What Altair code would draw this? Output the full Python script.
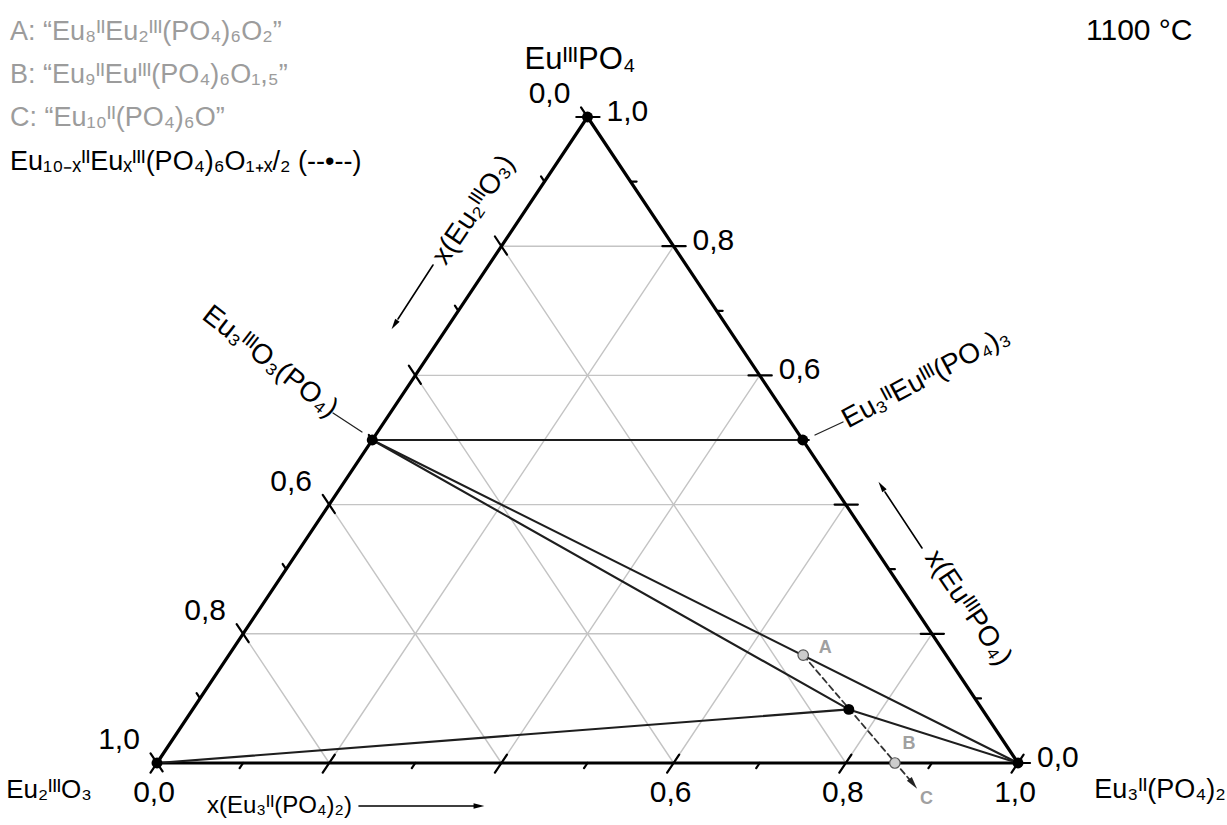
import altair as alt
import pandas as pd

# ---------------- data: ternary compositions ----------------
# a = x(Eu3(PO4)2), p = x(EuPO4), x(Eu2O3) = 1 - a - p
vertex_names = ["Eu2O3", "Eu3(PO4)2", "EuPO4"]
vertex_a = [0.0, 1.0, 0.0]
vertex_p = [0.0, 0.0, 1.0]

phase_names = ["Eu3O3(PO4)", "Eu3Eu(PO4)3", "EuII8.5EuIII1.5(PO4)6O1.75"]
phase_a = [0.0, 0.5, 0.762]
phase_p = [0.5, 0.5, 0.083]

tie_from = ["Eu3O3(PO4)", "Eu3O3(PO4)", "Eu3O3(PO4)", "EuII8.5EuIII1.5(PO4)6O1.75", "Eu2O3"]
tie_to = ["Eu3Eu(PO4)3", "Eu3(PO4)2", "EuII8.5EuIII1.5(PO4)6O1.75", "Eu3(PO4)2", "EuII8.5EuIII1.5(PO4)6O1.75"]

hyp_names = ["A", "B"]
hyp_a = [0.667, 0.857]
hyp_p = [0.167, 0.0]

series_end_a = 0.893   # dashed series continues toward C
series_end_p = -0.031

grid_values = [0.2, 0.4, 0.6, 0.8]
tick_values = [0.0, 0.1, 0.2, 0.3, 0.4, 0.5, 0.6, 0.7, 0.8, 0.9, 1.0]
label_values = [0.0, 0.6, 0.8, 1.0]
label_texts = ["0,0", "0,6", "0,8", "1,0"]

# ---------------- layout ----------------
W, H = 1227, 825
X0, XW = 157.0, 861.0
Y0, YH = 763.0, 646.0
FONT = "'Liberation Sans', sans-serif"
NUMFONT = "'Liberation Sans', sans-serif"


def cart(a, p):
    return a + p / 2.0, p


def inv(px, py):
    return (px - X0) / XW, (Y0 - py) / YH


xs = alt.Scale(domain=[-X0 / XW, (W - X0) / XW], nice=False, zero=False)
ys = alt.Scale(domain=[(Y0 - H) / YH, Y0 / YH], nice=False, zero=False)
X = lambda f="x": alt.X(f"{f}:Q", scale=xs, axis=None)
Y = lambda f="y": alt.Y(f"{f}:Q", scale=ys, axis=None)

pos = {}
for n, a, p in zip(vertex_names, vertex_a, vertex_p):
    pos[n] = cart(a, p)
for n, a, p in zip(phase_names, phase_a, phase_p):
    pos[n] = cart(a, p)


def seg_df(rows):
    return pd.DataFrame(rows, columns=["x", "y", "x2", "y2"])


def rules(df, color, width, dash=None):
    kw = dict(color=color, strokeWidth=width, strokeCap="round")
    if dash:
        kw["strokeDash"] = dash
    return alt.Chart(df).mark_rule(**kw).encode(x=X(), y=Y(), x2="x2:Q", y2="y2:Q")


# grid
grid_rows = []
for v in grid_values:
    grid_rows.append((*cart(0, v), *cart(1 - v, v)))
    grid_rows.append((*cart(v, 0), *cart(v, 1 - v)))
    grid_rows.append((*cart(1 - v, 0), *cart(0, 1 - v)))
grid = rules(seg_df(grid_rows), "#c4c4c4", 1.4)

# edges
L, R, T = pos["Eu2O3"], pos["Eu3(PO4)2"], pos["EuPO4"]
edges = rules(seg_df([(*L, *R), (*R, *T), (*T, *L)]), "#000000", 3.2)

# ticks
tick_rows = []
for v in tick_values:
    major = round(v * 10) % 2 == 0
    o, i = (0.015, 0.013) if major else (0.008, 0.0)
    tick_rows.append((*cart(v, -o), *cart(v, i)))
    o, i = (0.014, 0.013) if major else (0.007, 0.0)
    tick_rows.append((*cart(1 - v + o, v), *cart(1 - v - i, v)))
    o, i = (0.015, 0.013) if major else (0.008, 0.0)
    tick_rows.append((*cart(-o, 1 - v + o), *cart(i, 1 - v - i)))
ticks = rules(seg_df(tick_rows), "#000000", 2.2)

# tie lines
ties = rules(seg_df([(*pos[f], *pos[t]) for f, t in zip(tie_from, tie_to)]), "#1e1e1e", 2.1)

# dashed series
A = cart(hyp_a[0], hyp_p[0])
E = cart(series_end_a, series_end_p)
dashed = rules(seg_df([(*A, *E)]), "#333333", 1.8, dash=[6, 4])
head_df = pd.DataFrame({"x": [E[0]], "y": [E[1]], "ang": [142]})
ARROW = "M0,-1L0.42,0.7L-0.42,0.7Z"
dash_head = alt.Chart(head_df).mark_point(shape=ARROW, filled=True, color="#222222", size=220, opacity=1).encode(
    x=X(), y=Y(), angle=alt.Angle("ang:Q", scale=None))

# points
bp = pd.DataFrame([pos[n] for n in vertex_names + phase_names], columns=["x", "y"])
black_pts = alt.Chart(bp).mark_point(filled=True, color="#000000", size=120, opacity=1).encode(x=X(), y=Y())
gp = pd.DataFrame([cart(a, p) for a, p in zip(hyp_a, hyp_p)], columns=["x", "y"])
gp["name"] = hyp_names
grey_pts = alt.Chart(gp).mark_point(filled=True, fill="#cccccc", stroke="#555555", strokeWidth=1.2,
                                     size=110, opacity=1).encode(x=X(), y=Y())

# point letters A, B, C
lab = pd.DataFrame({"x": [gp.x[0], gp.x[1], E[0]], "y": [gp.y[0], gp.y[1], E[1]],
                    "t": ["A", "B", "C"], "dx": [22, 14, 14], "dy": [-7, -19, 16]})
letter_layers = []
for _, r in lab.iterrows():
    letter_layers.append(alt.Chart(pd.DataFrame([r])).mark_text(
        font=NUMFONT, fontSize=18, fontWeight="bold", color="#a0a0a0", dx=r.dx, dy=r.dy,
        align="center", baseline="middle").encode(x=X(), y=Y(), text="t:N"))

# tick labels
def tl_df(points):
    return pd.DataFrame([(*pt, t) for pt, t in zip(points, label_texts)], columns=["x", "y", "t"])

bot = tl_df([cart(v, 0) for v in label_values])
rgt = tl_df([cart(1 - v, v) for v in label_values])
lft = tl_df([cart(0, 1 - v) for v in label_values])
tick_labels = [
    alt.Chart(bot).mark_text(font=NUMFONT, fontSize=30, align="center", baseline="middle", dx=-3, dy=30)
    .encode(x=X(), y=Y(), text="t:N"),
    alt.Chart(rgt).mark_text(font=NUMFONT, fontSize=30, align="left", baseline="middle", dx=19, dy=-5)
    .encode(x=X(), y=Y(), text="t:N"),
    alt.Chart(lft).mark_text(font=NUMFONT, fontSize=30, align="center", baseline="middle", dx=-38, dy=-23)
    .encode(x=X(), y=Y(), text="t:N"),
]

# ---------------- annotations (pixel layout) ----------------
def ann(rows, align, baseline, font=FONT):
    df = pd.DataFrame(rows, columns=["px", "py", "t", "fs", "col", "ang"])
    xy = [inv(a, b) for a, b in zip(df.px, df.py)]
    df["x"] = [q[0] for q in xy]
    df["y"] = [q[1] for q in xy]
    return alt.Chart(df).mark_text(font=font, align=align, baseline=baseline).encode(
        x=X(), y=Y(), text="t:N",
        size=alt.Size("fs:Q", scale=None),
        color=alt.Color("col:N", scale=None),
        angle=alt.Angle("ang:Q", scale=None))

GREY = "#9c9c9c"
legend = ann([
    (10, 40, "A: “Eu₈ᴵᴵEu₂ᴵᴵᴵ(PO₄)₆O₂”", 27, GREY, 0),
    (10, 83, "B: “Eu₉ᴵᴵEuᴵᴵᴵ(PO₄)₆O₁,₅”", 27, GREY, 0),
    (10, 126, "C: “Eu₁₀ᴵᴵ(PO₄)₆O”", 27, GREY, 0),
    (10, 170, "Eu₁₀₋ₓᴵᴵEuₓᴵᴵᴵ(PO₄)₆O₁₊ₓ/₂ (--•--)", 27, "#000000", 0),
    (1086, 40, "1100 °C", 30, "#000000", 0),
    (207, 813, "x(Eu₃ᴵᴵ(PO₄)₂)", 24, "#000000", 0),
], "left", "alphabetic")

centered = ann([
    (580, 60, "EuᴵᴵᴵPO₄", 31, "#000000", 0),
    (49, 790, "Eu₂ᴵᴵᴵO₃", 26, "#000000", 0),
    (1160, 790, "Eu₃ᴵᴵ(PO₄)₂", 27, "#000000", 0),
    (474, 210, "x(Eu₂ᴵᴵᴵO₃)", 28, "#000000", 304),
    (968, 608, "x(EuᴵᴵᴵPO₄)", 28, "#000000", 56),
    (270, 362, "Eu₃ᴵᴵᴵO₃(PO₄)", 28, "#000000", 38),
    (926, 378, "Eu₃ᴵᴵEuᴵᴵᴵ(PO₄)₃", 28, "#000000", 332),
], "center", "middle")

# arrows and leader lines (pixel layout)
arrow_px = [(359, 806, 474, 806), (433, 265, 398, 319), (922, 548, 885, 492),
            (333, 413, 362, 432), (815, 435, 843, 422)]
arrow_rows = [(*inv(a, b), *inv(c, d)) for a, b, c, d in arrow_px]
arrow_lines = rules(seg_df(arrow_rows[:3]), "#000000", 1.6)
leaders = rules(seg_df(arrow_rows[3:]), "#222222", 1.3)
heads_px = [(478, 806, 90), (395, 324, 213), (882, 487, 326)]
hd = pd.DataFrame([(*inv(a, b), g) for a, b, g in heads_px], columns=["x", "y", "ang"])
heads = alt.Chart(hd).mark_point(shape=ARROW, filled=True, color="#000000", size=160, opacity=1).encode(
    x=X(), y=Y(), angle=alt.Angle("ang:Q", scale=None))

chart = alt.layer(
    grid, edges, ticks, ties, dashed, dash_head, black_pts, grey_pts, *letter_layers,
    *tick_labels, legend, centered, arrow_lines, leaders, heads
).properties(
    width=W, height=H, autosize=alt.AutoSizeParams(type="none"), padding=0, background="white"
).configure_view(stroke=None)

chart.save("out.html", embed_options={"renderer": "svg", "actions": False})
